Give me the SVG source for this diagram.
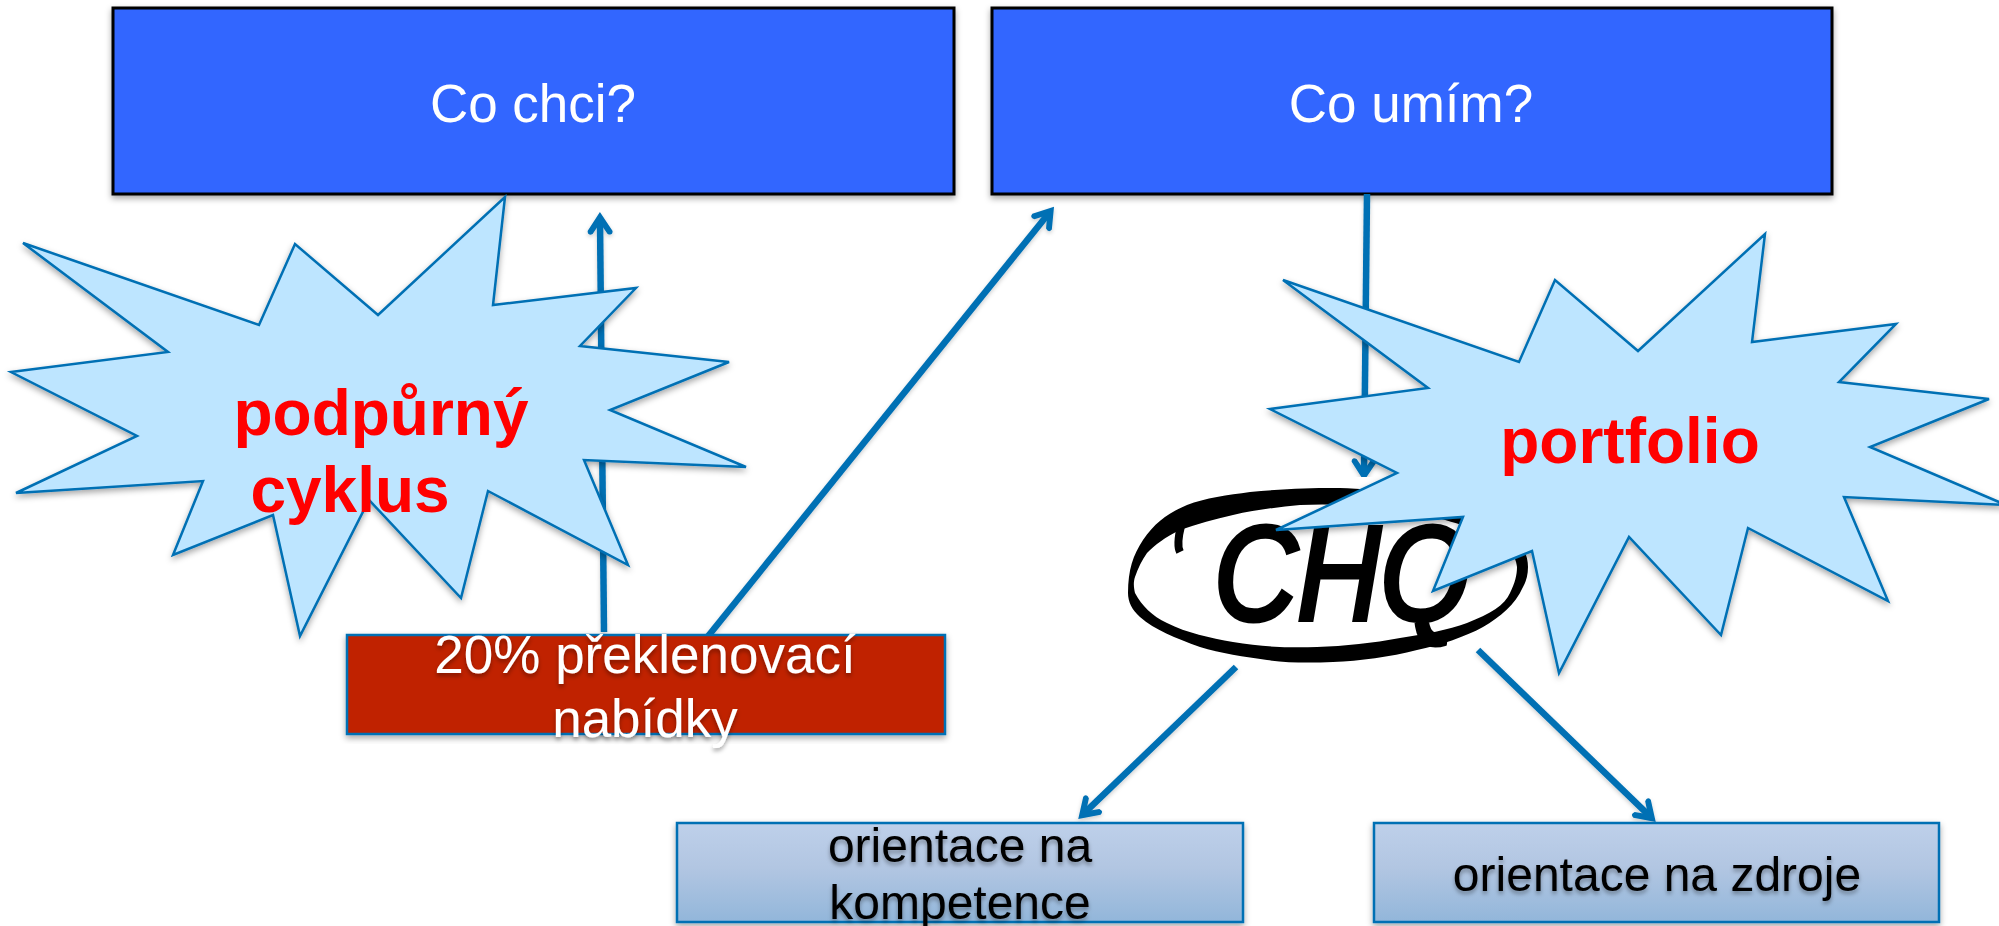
<svg xmlns="http://www.w3.org/2000/svg" width="1999" height="926" viewBox="0 0 1999 926">
<style>
text{font-family:"Liberation Sans",Arial,sans-serif;text-anchor:middle}
.top{fill:#36f;stroke:#000;stroke-width:3;filter:url(#sh)}
.tt{fill:#fff;font-size:53px}
.low{fill:url(#lg);stroke:#0070b4;stroke-width:2.5;filter:url(#sh)}
.lt{fill:#000;font-size:48px;filter:url(#ts)}
.burst{fill:#bde5ff;stroke:#0070b4;stroke-width:2.5;stroke-linejoin:miter;filter:url(#sh)}
.bt{fill:#f00;font-size:64px;font-weight:bold}
.c{stroke:#0070b4;stroke-width:6.5;fill:none;marker-end:url(#a);filter:url(#ls)}
.rt{fill:#fff;font-size:53px;filter:url(#ts)}
</style>
<defs>
<linearGradient id="lg" x1="0" y1="0" x2="0" y2="1"><stop offset="0" stop-color="#bed0ea"/><stop offset=".45" stop-color="#b2c6e2"/><stop offset="1" stop-color="#92b6da"/></linearGradient>
<filter id="sh" x="-5%" y="-5%" width="110%" height="115%"><feDropShadow dx="0" dy="3" stdDeviation="3" flood-color="#000" flood-opacity=".35"/></filter>
<filter id="ls" filterUnits="userSpaceOnUse" x="0" y="0" width="1999" height="926"><feDropShadow dx="0" dy="2" stdDeviation="2" flood-color="#000" flood-opacity=".2"/></filter>
<filter id="ts" x="-5%" y="-10%" width="110%" height="130%"><feDropShadow dx="0" dy="3" stdDeviation="2" flood-color="#000" flood-opacity=".35"/></filter>
<marker id="a" markerUnits="userSpaceOnUse" markerWidth="40" markerHeight="40" viewBox="-30 -20 40 40" refX="-8" refY="0" orient="auto" overflow="visible">
<path d="M0,0 L-19,-12.5 Q-24,-12.5 -22,-7.5 L-11,0 L-22,7.5 Q-24,12.5 -19,12.5 Z" fill="#0070b4"/>
</marker>
</defs>
<rect width="1999" height="926" fill="#fff"/>
<g id="node-chci"><rect class="top" x="113" y="8" width="841" height="186"/><text class="tt" x="533" y="122">Co chci?</text></g>
<g id="node-umim"><rect class="top" x="992" y="8" width="840" height="186"/><text class="tt" x="1411" y="122">Co umím?</text></g>
<g id="connectors">
<path class="c" d="M604,632 L600,220"/>
<path class="c" d="M705,640 L1049,213"/>
<path class="c" d="M1367,194 L1364,473"/>
<path class="c" d="M1236,667 L1084,813.4"/>
<path class="c" d="M1478,650 L1650,816.4"/>
</g>
<g id="node-bridge"><rect x="347" y="635" width="598" height="99" fill="#c02003" stroke="#0070b4" stroke-width="2.5" filter="url(#sh)"/>
<text class="rt" x="645" y="673">20% překlenovací</text><text class="rt" x="645" y="737">nabídky</text></g>
<g id="node-kompetence"><rect class="low" x="677" y="823" width="566" height="99"/><text class="lt" x="960" y="862">orientace na</text><text class="lt" x="960" y="919">kompetence</text></g>
<g id="node-zdroje"><rect class="low" x="1374" y="823" width="565" height="99"/><text class="lt" x="1657" y="891">orientace na zdroje</text></g>
<g id="node-chq">
<rect x="1126" y="477" width="404" height="168" fill="#fff"/>
<path fill-rule="evenodd" fill="#000" d="M1128,593 C1128,570 1133,555 1143,540 C1155,522 1170,512 1187,505 C1205,498 1228,495 1250,492 C1280,489 1310,488 1333,488 C1400,488 1528,510 1528,567 C1528,575 1526,582 1523,587 C1515,605 1500,617 1483,627 C1465,637 1440,645 1417,650 C1390,657 1360,661 1333,662 C1310,663 1288,663 1267,660 C1245,657 1220,653 1200,647 C1175,638 1155,630 1140,617 C1132,610 1128,602 1128,593 Z M1135,577 C1133,583 1134,588 1135,593 C1142,606 1152,616 1167,623 C1187,633 1210,638 1233,642 C1262,647 1290,648 1317,647 C1345,646 1373,643 1400,638 C1425,634 1448,630 1467,623 C1490,614 1505,605 1510,593 C1515,583 1517,575 1517,567 C1517,530 1400,500 1300,505 C1278,507 1255,510 1233,515 C1215,519 1197,524 1180,530 C1165,537 1155,545 1147,553 C1142,560 1138,568 1135,577 Z"/>
<path d="M1181,526 C1178,538 1177,546 1180,552" stroke="#000" stroke-width="8" fill="none"/>
<text x="1214" y="620" textLength="256" lengthAdjust="spacingAndGlyphs" style="text-anchor:start;font-size:133px;font-style:italic;fill:#000;stroke:#000;stroke-width:5">CHQ</text>
</g>
<g id="node-podpurny"><polygon class="burst" points="23,243 259,325 295,244 378,315 505,197 493,305 636,288 580,346 729,362 610,410 746,467 584,460 628,565 488,491 461,598 369,500 300,636 273,515 173,555 203,481 16,493 137,436 11,372 168,352"/>
<text class="bt" x="381" y="435">podpůrný</text><text class="bt" x="350" y="512">cyklus</text></g>
<g id="node-portfolio"><polygon class="burst" points="1283,280 1519,362 1555,280 1638,351 1765,234 1752,342 1896,324 1839,382 1989,399 1870,447 2006,505 1844,497 1888,601 1748,528 1721,635 1629,537 1559,673 1532,551 1433,591 1463,517 1276,530 1397,473 1270,409 1428,388"/>
<text class="bt" x="1630" y="463">portfolio</text></g>
</svg>
